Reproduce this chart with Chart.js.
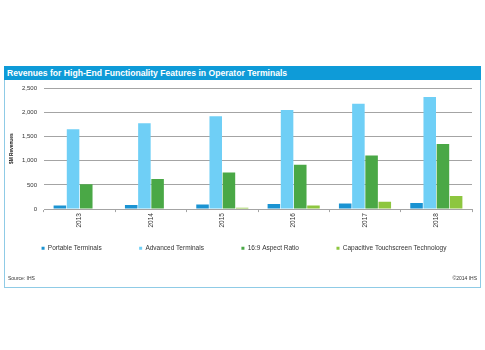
<!DOCTYPE html>
<html>
<head>
<meta charset="utf-8">
<script src="https://cdn.jsdelivr.net/npm/chart.js@4"></script>
<style>
    body { margin: 0; width: 485px; height: 350px; overflow: hidden; background: #fff; font-family: "Liberation Sans", Arial, sans-serif; position: relative; }
    #frame { position: absolute; left: 4px; top: 66px; width: 475px; height: 220px; border: 1px solid #8fcbe6; }
    #title { position: absolute; left: 4px; top: 66px; width: 477px; height: 14px; background: #0e9bd8; color: #fff; font-weight: bold; font-size: 8.6px; line-height: 14px; padding-left: 3px; box-sizing: border-box; white-space: nowrap; }
    #wrap { position: absolute; left: -10px; top: 83px; width: 508px; height: 205px; }
    .note { position: absolute; top: 275px; font-size: 5px; color: #333; z-index: 2; }
</style>
</head>
<body>
<div id="frame"></div>
<div id="title">Revenues for High-End Functionality Features in Operator Terminals</div>
<div id="wrap"><canvas id="barChart"></canvas></div>
<div class="note" style="left:8px">Source: IHS</div>
<div class="note" style="right:8px">©2014 IHS</div>
<script>
/* DATA */
const years = ["2013", "2014", "2015", "2016", "2017", "2018"];
const portable = [77, 83, 97, 104, 118, 125];
const advanced = [1650, 1775, 1920, 2050, 2180, 2320];
const aspect = [515, 625, 757, 917, 1111, 1347];
const capacitive = [0, 15, 28, 77, 153, 271];
const yTicks = [0, 500, 1000, 1500, 2000, 2500];

const grid = "#a4a4a4";
const font = "'Liberation Sans', Arial, sans-serif";

// legend sits right under the axis line, the rotated years overlap its top padding
const legendUp = {
    id: "legendUp",
    afterLayout(chart) {
        const lg = chart.legend;
        const h = lg.height;
        lg.top = chart.chartArea.bottom - 1.5;
        lg.bottom = lg.top + h;
    }
};

/* BAR */
new Chart(barChart, {
    type: "bar",
    data: {
        labels: years,
        datasets: [
            { label: "Portable Terminals", data: portable, backgroundColor: "#1a93d2" },
            { label: "Advanced Terminals", data: advanced, backgroundColor: "#6fcff6" },
            { label: "16:9 Aspect Ratio", data: aspect, backgroundColor: "#4aa846" },
            { label: "Capacitive Touchscreen Technology", data: capacitive, backgroundColor: "#8dc63f" }
        ]
    },
    plugins: [legendUp],
    options: {
        responsive: true,
        maintainAspectRatio: false,
        animation: false,
        layout: { padding: { top: 5.3, bottom: 0.9, left: 0, right: 0 } },
        datasets: { bar: { categoryPercentage: 0.74, barPercentage: 0.95 } },
        plugins: {
            tooltip: { enabled: false },
            legend: {
                position: "bottom",
                labels: {
                    boxWidth: 3, boxHeight: 3, padding: 37.5,
                    color: "#333", font: { family: font, size: 6.5 }
                }
            }
        },
        scales: {
            x: {
                afterFit: s => { s.height = 24; },
                grid: { offset: true, drawOnChartArea: false, drawTicks: true, tickLength: 3, color: grid },
                border: { color: grid },
                ticks: { minRotation: 90, maxRotation: 90, padding: 1, color: "#333", font: { family: font, size: 6.5 } }
            },
            y: {
                min: 0, max: 2500,
                afterFit: s => { s.width = 54; s.paddingTop = 0; s.paddingBottom = 0; },
                afterBuildTicks: s => { s.ticks = yTicks.map(v => ({ value: v })); },
                grid: { color: grid, drawTicks: false },
                border: { display: false },
                ticks: { padding: 7, color: "#333", font: { family: font, size: 6 } },
                title: { display: true, text: "$M Revenues", color: "#222", padding: { top: 19, bottom: 0 }, font: { family: "'Liberation Sans Narrow', " + font, size: 4.8, weight: "bold" } }
            },
            y2: {
                position: "right",
                afterFit: s => { s.width = 26; s.paddingTop = 0; s.paddingBottom = 0; },
                grid: { display: false },
                border: { display: false },
                ticks: { display: false }
            }
        }
    }
});
</script>
</body>
</html>
